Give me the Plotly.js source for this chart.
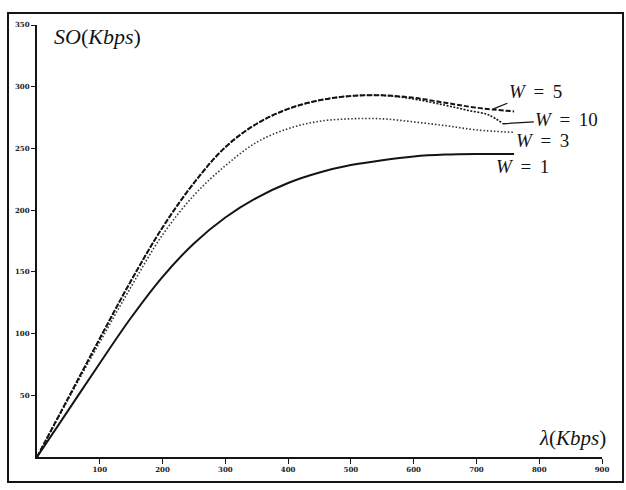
<!DOCTYPE html>
<html>
<head>
<meta charset="utf-8">
<script src="https://cdn.plot.ly/plotly-3.0.1.min.js"></script>
<style>
  html, body { margin: 0; padding: 0; background: #fff; }
  #chart { width: 626px; height: 490px; }
</style>
</head>
<body>
<div id="chart"></div>
<script>
// Offered load (Kbps) at which the throughput curves are sampled
const lambdaKbps = [0, 50, 100, 150, 200, 250, 300, 350, 400, 450, 500, 550, 600, 650, 700, 760];

// Throughput SO (Kbps) for each window size W
const soW1 = [0, 38, 76, 113, 146, 173, 194, 210, 222, 230.5, 236.5, 240.5, 243.5, 245, 245.5, 245.5];
const soW3 = [0, 47, 93, 138, 180, 212, 236, 255, 266, 272, 274, 274, 271.5, 268.5, 265, 263];
const soW5 = [0, 48, 96, 143, 186, 222, 251, 270, 282, 289, 292.5, 293, 291, 287, 283, 280];

// W = 10 follows W = 5 closely and stops a little earlier
const lambdaW10 = [0, 50, 100, 150, 200, 250, 300, 350, 400, 450, 500, 550, 600, 650, 685, 720, 742];
const soW10 = [0, 48, 96, 143, 186, 222, 251, 270, 282, 289, 292.5, 293, 290, 285, 281, 277, 270];

// Axis ticks
const xTicks = [100, 200, 300, 400, 500, 600, 700, 800, 900];
const yTicks = [50, 100, 150, 200, 250, 300, 350];

// Curve labels
const curveLabels = ['W = 5', 'W = 10', 'W = 3', 'W = 1'];

const serif = 'Liberation Serif, DejaVu Serif, serif';
const ink = '#141414';

function last(arr) { return arr[arr.length - 1]; }
function labelHtml(s) {
  const parts = s.split(' = ');
  return '<i>' + parts[0] + '</i>\u2009 = \u2009' + parts[1];
}

const traces = [
  { x: lambdaKbps, y: soW1, mode: 'lines', name: curveLabels[3],
    line: { color: ink, width: 2, shape: 'spline', smoothing: 1 } },
  { x: lambdaKbps, y: soW3, mode: 'lines', name: curveLabels[2],
    line: { color: '#333', width: 1.6, dash: '1.5px,2px', shape: 'spline', smoothing: 1 } },
  { x: lambdaW10, y: soW10, mode: 'lines', name: curveLabels[1],
    line: { color: ink, width: 1.6, dash: '2px,1.5px', shape: 'spline', smoothing: 1 } },
  { x: lambdaKbps, y: soW5, mode: 'lines', name: curveLabels[0],
    line: { color: ink, width: 2, dash: '5px,2px', shape: 'spline', smoothing: 1 } }
];

const tickFont = { family: 'DejaVu Serif, serif', size: 7, color: '#222', weight: 'bold' };
const labelFont = { family: serif, size: 19, color: ink };

const annotations = [
  { xref: 'paper', yref: 'paper', x: 0.0265, y: 0.9745, xanchor: 'left', yanchor: 'middle',
    text: '<i>SO</i>(<i>Kbps</i>)', showarrow: false, font: { family: serif, size: 22, color: ink } },
  { xref: 'paper', yref: 'paper', x: 1.0106, y: 0.044, xanchor: 'right', yanchor: 'middle',
    text: '<i>λ</i>(<i>Kbps</i>)', showarrow: false, font: { family: serif, size: 21, color: ink } },
  // W = 5, with a leader to its curve
  { x: 727, y: last(soW5) + 2, xref: 'x', yref: 'y', text: labelHtml(curveLabels[0]),
    showarrow: true, arrowhead: 0, arrowwidth: 1.3, arrowcolor: ink, ax: 42, ay: -17,
    xanchor: 'center', yanchor: 'middle', font: labelFont },
  // W = 10, leader from the end of its curve
  { x: last(lambdaW10), y: last(soW10), xref: 'x', yref: 'y', text: labelHtml(curveLabels[1]),
    showarrow: true, arrowhead: 0, arrowwidth: 1.3, arrowcolor: ink, ax: 64, ay: -4,
    xanchor: 'center', yanchor: 'middle', font: labelFont },
  { x: 806, y: 256.8, xref: 'x', yref: 'y', text: labelHtml(curveLabels[2]), showarrow: false,
    xanchor: 'center', yanchor: 'middle', font: labelFont },
  { x: 774, y: 235, xref: 'x', yref: 'y', text: labelHtml(curveLabels[3]), showarrow: false,
    xanchor: 'center', yanchor: 'middle', font: labelFont }
];

const layout = {
  width: 626, height: 490,
  margin: { l: 37, r: 24, t: 25, b: 33, pad: 0 },
  paper_bgcolor: '#fff', plot_bgcolor: '#fff',
  showlegend: false,
  xaxis: {
    range: [0, 900], tickvals: xTicks, ticktext: xTicks.map(String),
    ticks: 'outside', ticklen: 5, tickwidth: 1, tickcolor: ink,
    showline: true, linewidth: 2, linecolor: ink,
    showgrid: false, zeroline: false, tickfont: tickFont, fixedrange: true
  },
  yaxis: {
    range: [0, 350], tickvals: yTicks, ticktext: yTicks.map(String),
    ticks: 'outside', ticklen: 4, tickwidth: 1, tickcolor: ink,
    showline: true, linewidth: 2, linecolor: ink,
    showgrid: false, zeroline: false, tickfont: tickFont, fixedrange: true
  },
  annotations: annotations,
  shapes: [
    // outer frame around the figure
    { type: 'rect', xref: 'paper', yref: 'paper', x0: -0.0513, x1: 1.0372, y0: -0.0579, y1: 1.0278,
      line: { color: ink, width: 2 }, fillcolor: 'rgba(0,0,0,0)' }
  ]
};

Plotly.newPlot('chart', traces, layout, { staticPlot: true, displayModeBar: false });
</script>
</body>
</html>
